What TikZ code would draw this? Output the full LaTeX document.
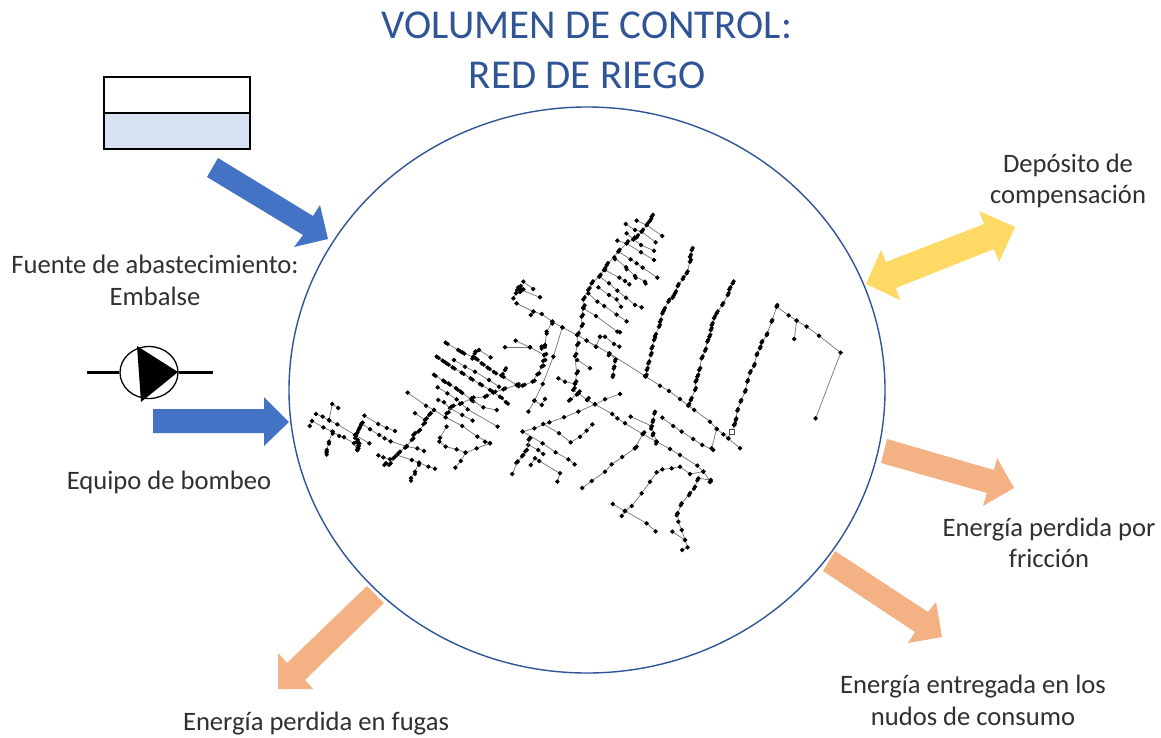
\documentclass[tikz,border=0pt]{standalone}
\usepackage{fontspec}
\usetikzlibrary{shapes.geometric}
\setmainfont{Carlito}
\definecolor{ringblue}{HTML}{2F5597}
\definecolor{inblue}{HTML}{4472C4}
\definecolor{lossorange}{HTML}{F4B183}
\definecolor{goldy}{HTML}{FFD966}
\definecolor{watery}{HTML}{D9E2F3}
\definecolor{inkk}{HTML}{303030}
\tikzset{
  lbl/.style={text=inkk,align=center,inner sep=0pt,font=\fontsize{26.6}{31.5}\selectfont},
  ttl/.style={text=ringblue,align=center,inner sep=0pt,font=\fontsize{41}{50}\selectfont},
  pipe/.style={draw=black!55,line width=.7pt,mark=*,mark size=1.9pt,mark options={solid,fill=black,draw=black}},
  blob/.style={mark=*,mark size=1.9pt,mark options={solid,fill=black,draw=black}},
  inarrow/.style={fill=inblue,draw=none},
  lossarrow/.style={fill=lossorange,draw=none},
  goldarrow/.style={fill=goldy,draw=none},
}
\newcommand\pl[1]{\draw[pipe] plot coordinates {#1};}
% dense pipe: each node is drawn twice, the copy offset by #1, so that it reads as a lump
\newcommand\pd[2]{\draw[pipe] plot coordinates {#2};\path[blob,shift={(#1)}] plot coordinates {#2};}
\begin{document}
\begin{tikzpicture}[x=1pt,y=-1pt]
\useasboundingbox (0,0) rectangle (1161,737);
\fill[white] (0,0) rectangle (1161,737);
% control volume
\node[ellipse,draw=ringblue,line width=1.4pt,minimum width=596pt,minimum height=566pt,inner sep=0pt] (ring) at (587,390) {};
% title
\node[ttl] (title) at (587,50) {VOLUMEN DE CONTROL:\\RED DE RIEGO};
% reservoir
\node[draw=black,line width=1.6pt,minimum width=146pt,minimum height=36pt,inner sep=0pt,anchor=north west,fill=white] (tanktop) at (103.3,76.3) {};
\node[draw=black,line width=1.6pt,minimum width=146pt,minimum height=36pt,inner sep=0pt,anchor=north west,fill=watery] (tankbot) at (103.3,112.3) {};
% pump
\node[ellipse,draw=black,line width=1.3pt,minimum width=58pt,minimum height=52pt,inner sep=0pt] (pump) at (149,372.5) {};
\coordinate (pipeL) at (87,372.5);
\coordinate (pipeR) at (213,372.5);
\draw[line width=3pt] (pipeL) -- (pump.west);
\draw[line width=3pt] (pump.east) -- (pipeR);
\fill[black] (137,346) -- (178,372) -- (141,402) -- cycle;
% arrows
\fill[inarrow] (218,158) -- (313,216) -- (320,205) -- (328,239) -- (294,247) -- (303,235) -- (207,177) -- cycle;
\fill[inarrow] (153,409) -- (264,409) -- (264,397) -- (289,422) -- (264,446) -- (264,433) -- (153,433) -- cycle;
\fill[goldarrow] (866,284) -- (881,250) -- (886,262) -- (984,224) -- (979,211) -- (1015,227) -- (999,262) -- (994,249) -- (896,288) -- (900,300) -- cycle;
\fill[lossarrow] (887,439) -- (994,470) -- (997,458) -- (1014,488) -- (983,506) -- (987,493) -- (881,463) -- cycle;
\fill[lossarrow] (835,551) -- (928,612) -- (936,602) -- (942,637) -- (908,643) -- (915,632) -- (823,571) -- cycle;
\fill[lossarrow] (367,586) -- (384,603) -- (305,680) -- (313,689) -- (278,689) -- (278,653) -- (287,663) -- cycle;
% labels
\node[lbl] (fuente) at (155,280.5) {Fuente de abastecimiento:\\Embalse};
\node[lbl] (equipo) at (169,482) {Equipo de bombeo};
\node[lbl] (deposito) at (1068,181) {Depósito de\\compensación};
\node[lbl] (friccion) at (1049,543) {Energía perdida por\\fricción};
\node[lbl] (entregada) at (973,700.5) {Energía entregada en los\\nudos de consumo};
\node[lbl] (fugas) at (316,723.5) {Energía perdida en fugas};
% network, west part
\begin{scope}[x=.33333pt,y=-.33333pt,shift={(900,600)}]
\pl{(48,642) (68,650) (88,662) (112,673) (165,705) (208,730)}
\pl{(29,678) (36,663) (70,682) (98,695) (118,708) (132,712) (162,730) (172,750)}
\pl{(115,624) (97,612) (87,660)}
\pd{0,6}{(98,695) (87,725) (80,750) (80,758)}
\pd{-3,6}{(188,668) (183,675) (178,685) (172,698) (168,708) (173,720) (178,730) (176,738) (175,745)}
\pl{(193,647) (235,672) (260,684) (285,693)}
\pl{(185,670) (210,688) (238,705) (254,715) (272,724) (320,740) (352,745) (372,753)}
\pl{(235,766) (250,772) (270,778) (290,765) (335,780) (357,788) (385,800) (405,806)}
\pd{-5,5}{(258,790) (272,790) (285,770) (300,755) (320,738) (340,715) (345,700) (360,690) (375,668) (380,655) (392,640)}
\pl{(392,640) (402,630) (437,652) (487,678) (532,710) (570,730) (555,725)}
\pl{(323,578) (378,617) (402,630)}
\pl{(345,640) (375,660)}
\pd{0,7}{(333,835) (345,815) (357,788)}
\pl{(440,680) (420,713) (418,725) (437,740) (470,748) (497,758) (482,783) (466,803)}
\pl{(497,758) (530,745) (570,730)}
\pd{6,4}{(437,428) (475,450) (487,457) (527,475) (545,490) (563,503) (582,516) (605,527) (650,555)}
\pd{6,4}{(410,470) (428,482) (440,490) (458,502) (485,518) (512,535) (540,552) (570,570) (600,590) (618,607)}
\pl{(462,480) (495,500) (525,515) (567,540) (597,560)}
\pd{5,4}{(402,524) (430,542) (445,550) (468,565) (482,575) (515,600)}
\pl{(515,600) (550,622) (590,630)}
\pl{(413,562) (442,580) (470,598) (503,628) (593,680)}
\pl{(415,600) (432,607) (450,625) (487,645) (518,662)}
\pd{6,-3}{(440,640) (455,620) (480,612) (515,595) (555,590) (580,578) (610,568) (650,555) (668,557) (698,545) (712,523) (725,500) (730,483) (733,465)}
\pl{(733,465) (690,442) (647,422)}
\pl{(690,442) (615,442)}
\pd{-3,6}{(520,470) (527,455)}
\pl{(527,455) (537,450) (572,472)}
\pd{3,-5}{(605,527) (615,510)}
\end{scope}
% network, east part
\begin{scope}[x=.33333pt,y=-.33333pt,shift={(1500,600)}]
\pl{(70,245) (100,267)}
\pl{(55,262) (62,258) (70,268) (60,276) (52,270) (65,270) (120,292)}
\pl{(40,295) (48,280) (60,270)}
\pl{(50,310) (100,335) (125,342) (157,365) (187,382) (232,405) (260,422) (328,460) (435,528) (480,557) (507,573) (540,597) (565,617) (583,630) (630,665) (650,687) (670,703) (685,715) (720,745)}
\pl{(92,345) (100,335)}
\pd{4,-6}{(455,50) (450,62) (440,75) (425,95) (410,112) (400,118) (380,130) (355,155) (320,195) (312,210) (298,230) (275,250) (265,270) (250,298) (250,322) (245,350) (245,378) (232,405) (232,435) (225,468) (230,520) (225,550) (220,570) (235,580) (262,600)}
\pl{(262,600) (285,613) (337,642) (352,655) (375,670) (428,702) (470,725) (510,747) (540,765) (592,797) (610,815) (632,845)}
\pl{(410,62) (440,75) (487,108)}
\pl{(377,72) (405,90) (425,95) (467,127)}
\pl{(380,100) (400,118) (423,135) (462,152)}
\pl{(352,122) (380,130) (423,157) (462,180)}
\pl{(355,155) (392,178) (410,190) (428,203) (472,233)}
\pd{2,6}{(343,172) (378,202) (405,228) (435,245)}
\pl{(315,210) (358,233) (375,243) (388,253)}
\pl{(298,230) (327,250) (352,272) (378,293) (405,315) (425,322)}
\pl{(295,262) (327,285) (350,298) (363,320)}
\pl{(265,280) (292,305) (313,318) (350,344) (380,364)}
\pl{(250,325) (288,348) (352,395) (360,397)}
\pl{(232,480) (270,505)}
\pd{3,-6}{(575,150) (570,170) (570,185) (560,220) (548,237) (533,258) (525,280) (518,293) (505,305) (492,330) (487,340) (480,365) (477,380) (465,408) (462,420) (455,445) (452,465) (445,490) (440,510) (437,530)}
\pd{3,-6}{(698,250) (688,268) (683,285) (667,315) (650,340) (642,355) (635,375) (632,390) (628,410) (622,425) (615,452) (605,475) (598,510) (592,530) (587,545) (585,570) (572,600) (565,617)}
\pd{2,-5}{(830,320) (815,365) (800,405) (785,428) (780,445) (770,465) (762,497) (750,518) (742,545) (735,575) (722,605) (712,632) (707,660) (703,675)}
\pl{(703,675) (695,695) (685,715)}
\pl{(830,320) (866,346) (890,362) (920,380) (957,407) (1022,458) (947,655)}
\pl{(890,362) (883,417)}
\pl{(300,410) (315,410) (342,432) (358,440)}
\pl{(300,410) (288,440)}
\pd{-2,6}{(328,460) (347,478) (343,500) (340,525)}
\pl{(260,422) (288,440)}
\pd{0,6}{(157,365) (140,395) (135,435) (125,440)}
\pl{(187,382) (160,470) (128,552) (103,602) (85,635)}
\pl{(103,602) (125,615) (135,597)}
\pl{(175,535) (195,545) (225,552)}
\pd{-5,4}{(235,580) (212,598)}
\pl{(360,582) (315,598) (285,613) (235,635) (192,652) (148,667) (103,685) (68,695)}
\pl{(130,672) (177,700) (212,727) (240,710) (260,692) (277,673)}
\pl{(68,695) (128,730) (167,757) (205,778) (224,793)}
\pl{(90,715) (85,735) (115,750) (130,762)}
\pd{-4,4}{(90,715) (80,750) (70,765) (53,785)}
\pl{(53,785) (37,822)}
\pl{(92,795) (105,775) (118,783) (180,820) (172,845)}
\pl{(392,650) (455,678)}
\pd{-2,6}{(465,635) (460,660) (455,680) (460,700) (470,725)}
\pl{(487,653) (520,678) (545,695) (580,717) (607,735) (640,750)}
\pl{(650,687) (635,745)}
\pd{5,-5}{(428,702) (405,745)}
\pl{(405,745) (367,771) (335,793) (315,815) (275,843) (247,864)}
\pd{-3,6}{(632,840) (595,835) (585,860) (570,880) (545,910) (533,940)}
\pl{(533,940) (535,965) (545,990) (555,1020) (563,1042) (547,1050)}
\pl{(517,995) (555,1020)}
\pl{(610,815) (570,822) (540,800) (515,805) (487,808) (470,817) (450,845) (425,880) (395,918) (375,933) (338,912)}
\pl{(375,933) (440,970) (467,994)}
\pl{(375,933) (365,948)}
\node[draw=black!70,fill=white,line width=.5pt,minimum size=5pt,inner sep=0pt] (valve) at (695,695) {};
\end{scope}
\end{tikzpicture}
\end{document}
